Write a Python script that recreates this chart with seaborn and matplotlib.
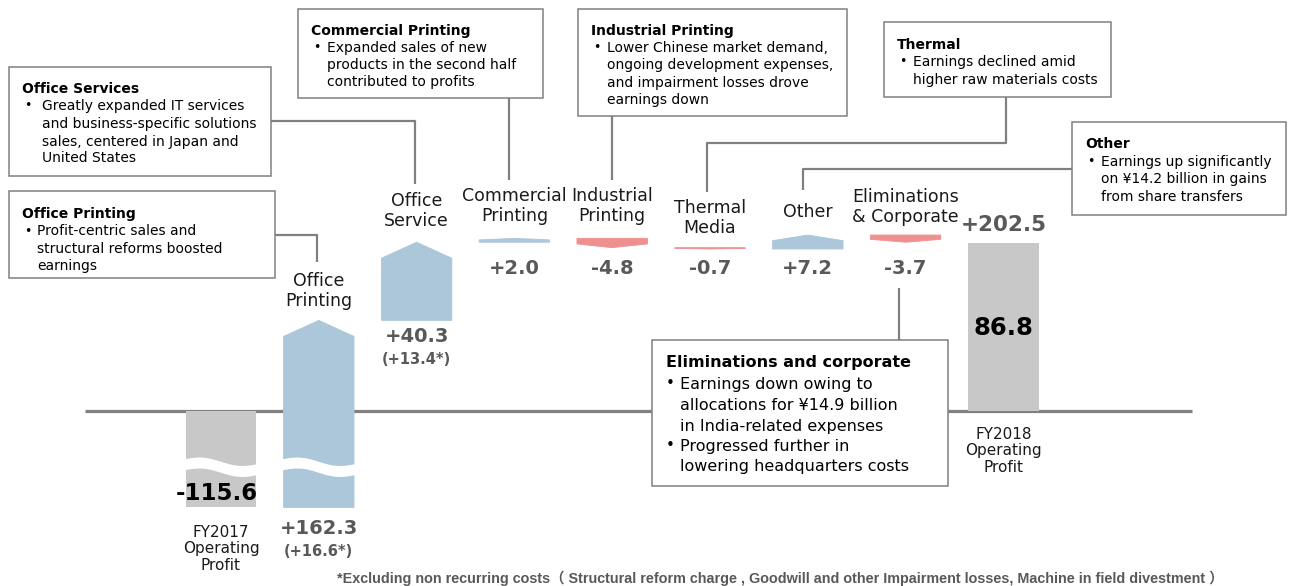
import numpy as np
import pandas as pd
import matplotlib
matplotlib.use("Agg")
import matplotlib.pyplot as plt
from matplotlib.transforms import Affine2D, blended_transform_factory
from matplotlib.patches import Rectangle
from matplotlib.lines import Line2D
import seaborn as sns

# ---------------- data ----------------
categories = ["FY2017\nOperating\nProfit", "Office\nPrinting", "Office\nService",
              "Commercial\nPrinting", "Industrial\nPrinting", "Thermal\nMedia",
              "Other", "Eliminations\n& Corporate", "FY2018\nOperating\nProfit"]
start_total = -115.6
end_total = 86.8
deltas = [162.3, 40.3, 2.0, -4.8, -0.7, 7.2, -3.7]
delta_labels = ["+162.3", "+40.3", "+2.0", "-4.8", "-0.7", "+7.2", "-3.7"]
sub_labels = ["(+16.6*)", "(+13.4*)", "", "", "", "", ""]
start_label = "-115.6"
end_label = "86.8"
total_change_label = "+202.5"
footnote = ("*Excluding non recurring costs\uff08 Structural reform charge , Goodwill and other "
            "Impairment losses, Machine in field divestment \uff09")

callouts = [
    ("Office Printing", ["Profit-centric sales and", "structural reforms boosted", "earnings"]),
    ("Office Services", ["Greatly expanded IT services", "and business-specific solutions",
                         "sales, centered in Japan and", "United States"]),
    ("Commercial Printing", ["Expanded sales of new", "products in the second half",
                             "contributed to profits"]),
    ("Industrial Printing", ["Lower Chinese market demand,", "ongoing development expenses,",
                             "and impairment losses drove", "earnings down"]),
    ("Thermal", ["Earnings declined amid", "higher raw materials costs"]),
    ("Other", ["Earnings up significantly", "on \u00a514.2 billion in gains",
               "from share transfers"]),
]
elim_title = "Eliminations and corporate"
elim_lines = [("\u2022", "Earnings down owing to"), ("", "allocations for \u00a514.9 billion"),
              ("", "in India-related expenses"), ("\u2022", "Progressed further in"),
              ("", "lowering headquarters costs")]

# ---------------- style ----------------
W, H = 1292, 586
BLUE = "#abc7d9"
PINK = "#f08f8f"
GREY = "#c8c8c8"
LINEC = "#808080"
VALC = "#595959"
PXU = 1.94        # px per unit (above zero)
NEG = 0.43        # compression below zero (broken axis)
ZERO_PX = 411
X0_PX, STEP_PX = 221.0, 97.8
BW = 0.72

sns.set_theme(style="white")
plt.rcParams["font.family"] = ["DejaVu Sans", "Noto Sans CJK JP"]

fig = plt.figure(figsize=(W / 100, H / 100), dpi=100)
ax = fig.add_axes([0, 0, 1, 1])

def fwd(v):
    v = np.asarray(v, dtype=float)
    return np.where(v >= 0, v, v * NEG)

def inv(u):
    u = np.asarray(u, dtype=float)
    return np.where(u >= 0, u, u / NEG)

def px2data_y(py):
    return inv((ZERO_PX - np.asarray(py, dtype=float)) / PXU)

def bar_px(i):
    return X0_PX + STEP_PX * i

# totals via seaborn
df = pd.DataFrame({"cat": [categories[0], categories[-1]], "val": [start_total, end_total]})
sns.barplot(data=df, x="cat", y="val", order=categories, color=GREY, saturation=1,
            width=BW, errorbar=None, ax=ax, zorder=2, linewidth=0, edgecolor=GREY)

ax.set_yscale("function", functions=(fwd, inv))
ax.set_ylim(float(px2data_y(H)), float(px2data_y(0)))
ax.set_xlim(-X0_PX / STEP_PX, (W - X0_PX) / STEP_PX)
ax.axis("off")

px_tr = Affine2D().scale(1 / W, -1 / H).translate(0, 1) + fig.transFigure
xd_ypx = blended_transform_factory(ax.transData, px_tr)

# delta bars as arrow shapes
level = start_total
for i, d in enumerate(deltas):
    x = i + 1
    s, e = level, level + d
    ds, de = float(fwd(s)), float(fwd(e))
    a = min(8.25, 0.4 * abs(de - ds))
    sg = 1 if d > 0 else -1
    ys = [ds, de - sg * a, de, de - sg * a, ds]
    xs = [x - BW / 2, x - BW / 2, x, x + BW / 2, x + BW / 2]
    col = BLUE if d > 0 else PINK
    ax.fill(xs, inv(ys), color=col, lw=0.6, ec=col, zorder=2)
    level = e

# wavy breaks on broken bars
t = np.linspace(0, 1, 80)
for x in [0, 1]:
    xx = x - BW / 2 - 0.02 + t * (BW + 0.04)
    top = 459.5 - 3.0 * np.sin(2 * np.pi * t) + 4.5 * t
    bot = top + 11
    ax.fill(np.r_[xx, xx[::-1]], px2data_y(np.r_[top, bot[::-1]]), color="white",
            lw=0, zorder=3)

# baseline
ax.plot([(85 - X0_PX) / STEP_PX, (1192 - X0_PX) / STEP_PX], [0, 0], color=LINEC,
        lw=2.3, zorder=1, solid_capstyle="butt")

# category labels
cat_y = [549, 291, 211, 206, 206, 218, 212, 207, 451]
for i, (c, y) in enumerate(zip(categories, cat_y)):
    fs = 11 if i in (0, 8) else 12.5
    ax.text(i, y, c, transform=xd_ypx, ha="center", va="center", fontsize=fs,
            color="#1a1a1a", linespacing=1.12 if i in (0, 8) else 1.2, zorder=5)

# value labels
val_y = [529, 337, 269, 269, 269, 269, 269]
for i, (lab, sub, y) in enumerate(zip(delta_labels, sub_labels, val_y)):
    ax.text(i + 1, y, lab, transform=xd_ypx, ha="center", va="center", fontsize=14,
            fontweight="bold", color=VALC, zorder=5)
    if sub:
        ax.text(i + 1, y + 23, sub, transform=xd_ypx, ha="center", va="center",
                fontsize=10.5, fontweight="bold", color=VALC, zorder=5)
ax.text(8, 225, total_change_label, transform=xd_ypx, ha="center", va="center",
        fontsize=15.5, fontweight="bold", color=VALC, zorder=5)
ax.text(8, 328, end_label, transform=xd_ypx, ha="center", va="center",
        fontsize=17.5, fontweight="bold", color="black", zorder=5)
ax.text(-0.04, 494, start_label, transform=xd_ypx, ha="center", va="center",
        fontsize=16.5, fontweight="bold", color="black", zorder=5)

# callout boxes (px layout)
boxes = [  # x0, y0, x1, y1, title_y, line_ys, text_x_off
    (9, 191, 275, 278, 214, [231, 249, 266], 28),
    (9, 67, 271, 176, 89, [106, 124, 142, 158], 33),
    (298, 9, 543, 98, 31, [48, 65, 82], 29),
    (578, 9, 847, 116, 31, [48, 65, 83, 100], 29),
    (884, 22, 1111, 97, 45, [62, 80], 29),
    (1072, 122, 1286, 215, 144, [162, 179, 197], 29),
]

def line_px(xs, ys):
    fig.add_artist(Line2D(xs, ys, transform=px_tr, color=LINEC, lw=1.6,
                          solid_capstyle="butt", zorder=1))

connectors = [
    ([275, bar_px(1) - 2, bar_px(1) - 2], [235, 235, 262]),
    ([271, bar_px(2) - 2, bar_px(2) - 2], [121, 121, 184]),
    ([bar_px(3) - 5, bar_px(3) - 5], [98, 180]),
    ([bar_px(4), bar_px(4)], [116, 180]),
    ([1006, 1006, bar_px(5) - 3, bar_px(5) - 3], [97, 143, 143, 192]),
    ([1072, bar_px(6) - 5, bar_px(6) - 5], [169, 169, 190]),
    ([bar_px(7) - 7, bar_px(7) - 7], [288, 340]),
]
for xs, ys in connectors:
    line_px(xs, ys)

for (title, lines), (x0, y0, x1, y1, ty, lys, toff) in zip(callouts, boxes):
    fig.add_artist(Rectangle((x0, y0), x1 - x0, y1 - y0, transform=px_tr, fc="white",
                             ec=LINEC, lw=1.1, zorder=4))
    fig.text(x0 + 13, ty, title, transform=px_tr, ha="left", va="center", fontsize=10,
             fontweight="bold", color="black", zorder=6)
    for j, (ln, ly) in enumerate(zip(lines, lys)):
        if j == 0:
            fig.text(x0 + 15, ly, "\u2022", transform=px_tr, ha="left", va="center",
                     fontsize=9, color="black", zorder=6)
        fig.text(x0 + toff, ly, ln, transform=px_tr, ha="left", va="center",
                 fontsize=10, color="black", zorder=6)

# eliminations box
ex0, ey0, ex1, ey1 = 652, 340, 948, 486
fig.add_artist(Rectangle((ex0, ey0), ex1 - ex0, ey1 - ey0, transform=px_tr, fc="white",
                         ec=LINEC, lw=1.1, zorder=4))
fig.text(666, 363, elim_title, transform=px_tr, ha="left", va="center", fontsize=11.5,
         fontweight="bold", color="black", zorder=6)
for (b, ln), ly in zip(elim_lines, [384, 405, 426, 446, 467]):
    if b:
        fig.text(666, ly, b, transform=px_tr, ha="left", va="center", fontsize=11,
                 color="black", zorder=6)
    fig.text(680, ly, ln, transform=px_tr, ha="left", va="center", fontsize=11.5,
             color="black", zorder=6)

# footnote
fig.text(780, 578, footnote, transform=px_tr, ha="center", va="center", fontsize=10.4,
         fontweight="bold", color=VALC,
         family=["Liberation Sans Narrow", "Liberation Sans", "Noto Sans CJK JP"])

fig.savefig("out.png", dpi=100, facecolor="white")
